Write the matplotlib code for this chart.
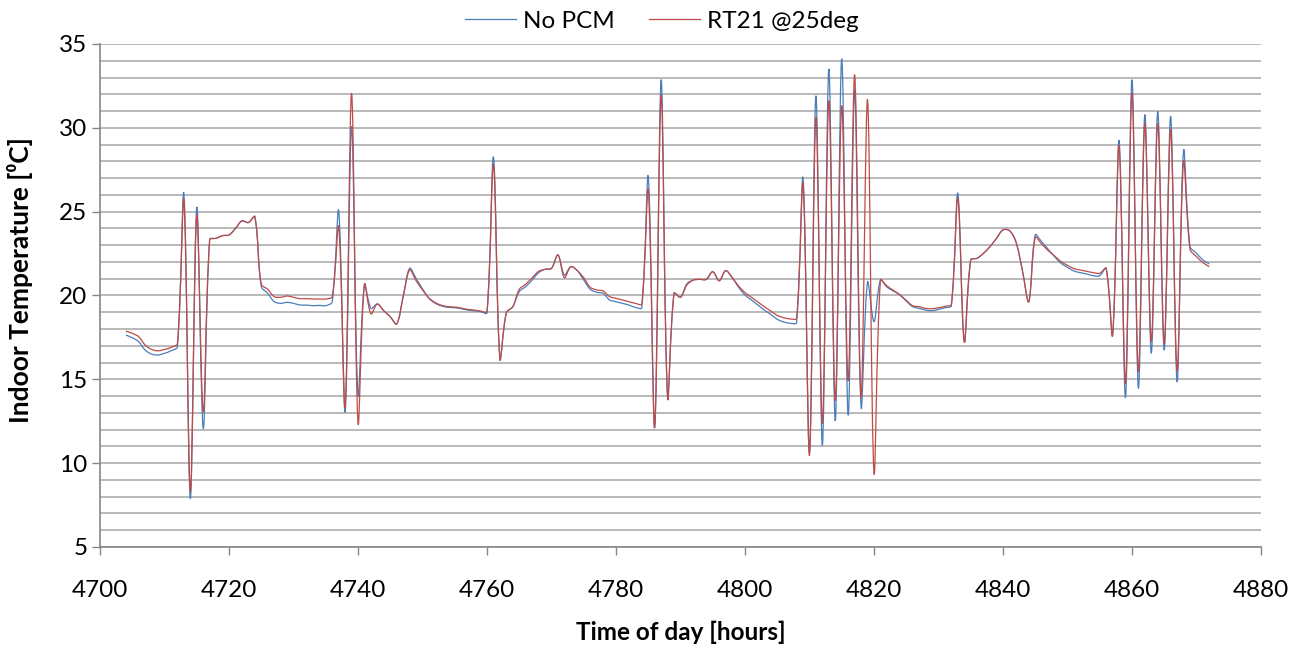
import numpy as np
import matplotlib
matplotlib.use('Agg')
import matplotlib.pyplot as plt
from matplotlib.path import Path
from matplotlib.patches import PathPatch
from matplotlib.lines import Line2D

########################################################################################################################
# Data (hourly indoor temperature)
########################################################################################################################

hours = list(range(4704, 4873))

no_pcm = [17.64, 17.48, 17.24, 16.74, 16.50, 16.45, 16.55, 16.70, 16.94, 26.06,
          7.88, 25.26, 12.07, 23.35, 23.41, 23.57, 23.61, 24.00, 24.45, 24.35,
          24.70, 20.53, 20.13, 19.63, 19.53, 19.59, 19.53, 19.43, 19.43, 19.39,
          19.41, 19.39, 19.63, 25.05, 13.06, 30.08, 14.06, 20.67, 19.23, 19.49,
          19.09, 18.73, 18.30, 19.93, 21.62, 21.02, 20.40, 19.83, 19.53, 19.37,
          19.29, 19.27, 19.21, 19.13, 19.09, 19.03, 18.97, 28.25, 16.19, 18.97,
          19.33, 20.23, 20.53, 20.92, 21.36, 21.56, 21.62, 22.42, 21.22, 21.72,
          21.48, 20.92, 20.37, 20.19, 20.13, 19.73, 19.63, 19.53, 19.43, 19.29,
          19.27, 27.10, 12.13, 32.87, 13.90, 20.13, 19.89, 20.70, 20.92, 20.96,
          20.96, 21.42, 20.88, 21.48, 21.08, 20.49, 20.03, 19.73, 19.43, 19.13,
          18.87, 18.58, 18.42, 18.34, 18.38, 27.00, 10.67, 31.91, 11.07, 33.51,
          12.52, 34.12, 12.86, 32.27, 13.36, 20.80, 18.44, 20.92, 20.50, 20.27,
          20.03, 19.67, 19.33, 19.23, 19.13, 19.09, 19.17, 19.27, 19.39, 26.10,
          17.24, 22.12, 22.22, 22.52, 22.92, 23.41, 23.91, 23.87, 23.21, 21.52,
          19.63, 23.61, 23.21, 22.76, 22.32, 21.92, 21.68, 21.46, 21.36, 21.28,
          21.18, 21.18, 21.62, 17.64, 29.25, 13.92, 32.87, 14.46, 30.78, 16.55,
          30.98, 16.74, 30.69, 14.85, 28.63, 22.92, 22.52, 22.12, 21.88]

rt21 = [17.88, 17.74, 17.54, 17.04, 16.78, 16.70, 16.78, 16.90, 17.14, 25.70,
        8.28, 24.80, 13.06, 23.31, 23.41, 23.57, 23.61, 24.00, 24.45, 24.35,
        24.70, 20.67, 20.37, 19.93, 19.89, 19.97, 19.89, 19.81, 19.81, 19.79,
        19.79, 19.79, 19.93, 24.10, 13.36, 32.07, 12.40, 20.67, 18.90, 19.49,
        19.09, 18.73, 18.30, 19.93, 21.52, 20.88, 20.33, 19.85, 19.57, 19.41,
        19.33, 19.31, 19.25, 19.17, 19.13, 19.07, 19.03, 27.80, 16.25, 18.97,
        19.33, 20.37, 20.67, 21.06, 21.44, 21.56, 21.62, 22.42, 21.06, 21.72,
        21.48, 21.06, 20.49, 20.33, 20.27, 19.93, 19.83, 19.73, 19.63, 19.53,
        19.49, 26.30, 12.13, 31.97, 13.90, 20.13, 19.89, 20.63, 20.92, 20.96,
        20.96, 21.42, 20.88, 21.48, 21.08, 20.57, 20.17, 19.89, 19.61, 19.33,
        19.07, 18.81, 18.68, 18.60, 18.64, 26.66, 10.47, 30.64, 12.36, 31.62,
        13.72, 31.32, 14.91, 33.17, 13.92, 31.68, 9.42, 20.92, 20.57, 20.31,
        20.05, 19.71, 19.39, 19.33, 19.23, 19.21, 19.27, 19.35, 19.47, 25.80,
        17.24, 22.12, 22.22, 22.52, 22.92, 23.41, 23.91, 23.87, 23.21, 21.52,
        19.63, 23.47, 23.07, 22.68, 22.36, 22.02, 21.80, 21.60, 21.52, 21.44,
        21.36, 21.32, 21.62, 17.64, 28.93, 14.75, 32.07, 15.45, 30.28, 17.24,
        30.28, 17.14, 29.92, 15.51, 27.99, 22.76, 22.32, 21.96, 21.72]

series_labels = ["No PCM", "RT21 @25deg"]
series_colors = ["#4a7ebb", "#be4b48"]
x_ticks = [4700, 4720, 4740, 4760, 4780, 4800, 4820, 4840, 4860, 4880]
y_ticks = [5, 10, 15, 20, 25, 30, 35]
x_label = "Time of day [hours]"
y_label = "Indoor Temperature [\u2070C]"


########################################################################################################################
# Utils
########################################################################################################################

def smooth_path(xs, ys, sx=6.45, sy=16.74):
    """
    Excel-like smoothed line: one cubic bezier between each pair of points,
    handle lengths weighted by the (on screen) length of the neighbouring segments
    :param sx, sy: pixels per data unit, used to measure segment lengths
    :return: matplotlib Path in data coordinates
    """
    pts = np.column_stack([np.asarray(xs, float), np.asarray(ys, float)])
    scale = np.array([sx, sy])
    n = len(pts)

    def seg_len(a, b):
        return max(np.hypot(*((b - a) * scale)), 1e-9)

    verts = [pts[0]]
    codes = [Path.MOVETO]
    for i in range(n - 1):
        p0 = pts[max(i - 1, 0)]
        p1 = pts[i]
        p2 = pts[i + 1]
        p3 = pts[min(i + 2, n - 1)]
        d01, d12, d23 = seg_len(p0, p1), seg_len(p1, p2), seg_len(p2, p3)
        c1 = p1 + (p2 - p0) * d12 / (d01 + d12) / 3.0
        c2 = p2 - (p3 - p1) * d12 / (d12 + d23) / 3.0
        verts += [c1, c2, p2]
        codes += [Path.CURVE4] * 3
    return Path(verts, codes)


########################################################################################################################
# Plot
########################################################################################################################

plt.rcParams['font.family'] = ['Lato', 'DejaVu Sans']
plt.rcParams['font.size'] = 17.5

fig = plt.figure(figsize=(13.06, 6.45), dpi=100)
ax = fig.add_axes([0.0766, 0.152, 0.8889, 0.7798])

handles = []
for values, label, color in zip([no_pcm, rt21], series_labels, series_colors):
    ax.add_patch(PathPatch(smooth_path(hours, values), fill=False, edgecolor=color, linewidth=0.9))
    handles.append(Line2D([], [], color=color, linewidth=0.9, label=label))

ax.set_xlim(4700, 4880)
ax.set_ylim(5, 35)
ax.set_xticks(x_ticks)
ax.set_yticks(y_ticks)
ax.set_yticks(np.arange(5, 36, 1), minor=True)
ax.tick_params(axis='y', which='minor', length=0)
ax.tick_params(axis='both', which='major', length=6, width=1, color='#868686', direction='out')
ax.tick_params(axis='x', which='major', pad=18)
ax.tick_params(axis='y', which='major', pad=3)
ax.grid(axis='y', which='both', color='#b3b3b3', linewidth=1.3)
ax.set_axisbelow(True)

for side in ['top', 'right']:
    ax.spines[side].set_visible(False)
for side in ['left', 'bottom']:
    ax.spines[side].set_color('#868686')
    ax.spines[side].set_linewidth(1.2)

ax.set_xlabel(x_label, fontweight='bold')
ax.set_ylabel(y_label, fontweight='bold', fontsize=19)
ax.xaxis.set_label_coords(0.5, -0.147)
ax.yaxis.set_label_coords(-0.058, 0.53)

ax.legend(handles=handles, loc='lower center', bbox_to_anchor=(0.484, 1.005), ncol=2, frameon=False,
          handlelength=2.1, handletextpad=0.3, columnspacing=1.4, borderaxespad=0.0)

fig.savefig('out.png', dpi=100)
